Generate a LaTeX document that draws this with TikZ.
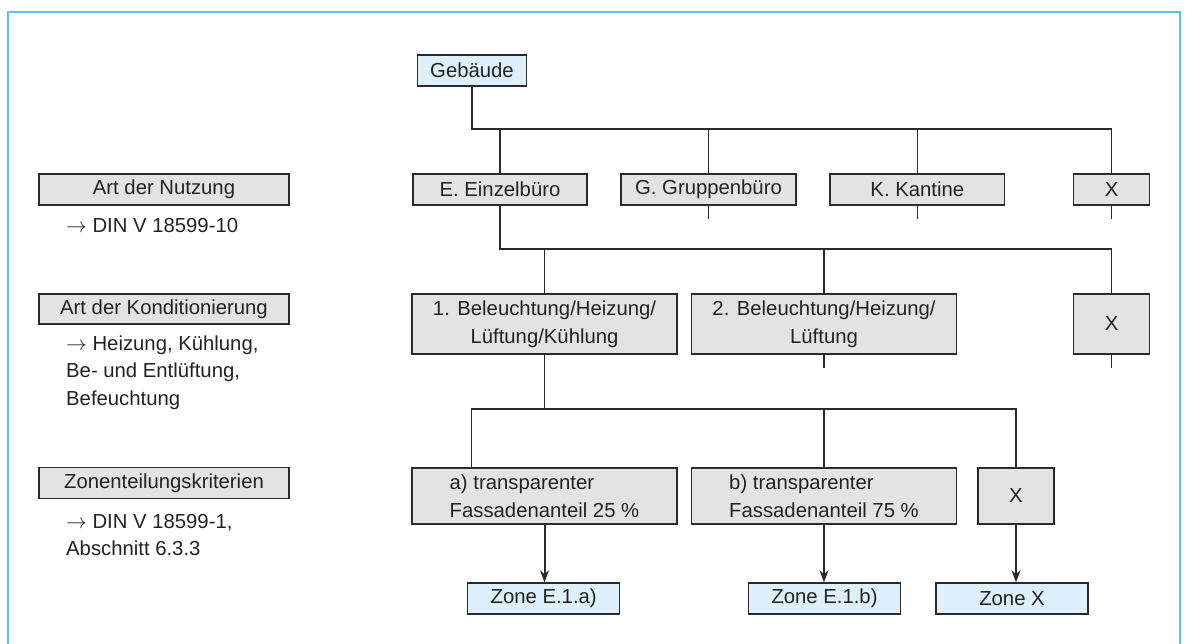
\documentclass[tikz,border=0pt]{standalone}
\usepackage{fontspec}
\setmainfont{Liberation Sans}
\usetikzlibrary{arrows.meta,calc}
\definecolor{boxgray}{HTML}{E3E3E3}
\definecolor{zoneblue}{HTML}{DDF0FC}
\definecolor{frameblue}{HTML}{5FC0EA}
\definecolor{linegray}{HTML}{2A2A2A}
\definecolor{textgray}{HTML}{222222}

\begin{document}
\begin{tikzpicture}[x=1pt,y=-1pt,
  font=\fontsize{20.3}{27.5}\selectfont,
  base/.style={draw=linegray, line width=1.5pt, inner sep=0pt, align=center, text=textgray},
  graybox/.style={base, fill=boxgray},
  zonebox/.style={base, fill=zoneblue, minimum width=152pt, minimum height=31pt},
  link/.style={draw=linegray, line width=1.5pt},
  arrowlink/.style={link, line width=2pt, -{Stealth[length=12pt,width=9pt]}},
  note/.style={inner sep=0pt, anchor=west, align=left, text=textgray}]

\useasboundingbox (0,0) rectangle (1188,643);
% outer frame (open at the bottom edge of the page)
\draw[frameblue, line width=1.6pt] (8,650) -- (8,12) -- (1180,12) -- (1180,650);

% left column: criteria
\node[graybox, minimum width=250pt, minimum height=31pt] (nutz) at (164,189.5) {Art der Nutzung};
\node[note] (nutzref) at (66,226) {$\rightarrow$ DIN V 18599-10};
\node[graybox, minimum width=250pt, minimum height=30pt] (kond) at (164,309) {Art der Konditionierung};
\node[note] (kondref) at (66,372.5) {$\rightarrow$ Heizung, Kühlung,\\Be- und Entlüftung,\\Befeuchtung};
\node[graybox, minimum width=250pt, minimum height=30.6pt] (zkrit) at (164,483) {Zonenteilungskriterien};
\node[note] (zkritref) at (66,535) {$\rightarrow$ DIN V 18599-1,\\Abschnitt 6.3.3};

% tree
\node[base, fill=zoneblue, minimum width=109pt, minimum height=31pt] (geb) at (472,70.5) {Gebäude};

\node[graybox, minimum width=174pt, minimum height=31pt] (E) at (500,189.5) {E. Einzelbüro};
\node[graybox, minimum width=175pt, minimum height=31pt] (G) at (708.5,189.5) {G. Gruppenbüro};
\node[graybox, minimum width=174.6pt, minimum height=31pt] (K) at (917.3,189.5) {K. Kantine};
\node[graybox, minimum width=76pt, minimum height=31pt] (X1) at (1111.6,189.5) {X};

\node[graybox, minimum width=265pt, minimum height=60pt] (c1) at (544.5,324) {1. Beleuchtung/Heizung/\\Lüftung/Kühlung};
\node[graybox, minimum width=265pt, minimum height=60pt] (c2) at (824,324) {2. Beleuchtung/Heizung/\\Lüftung};
\node[graybox, minimum width=76pt, minimum height=60pt] (X2) at (1111.6,324) {X};

\node[graybox, minimum width=265pt, minimum height=56pt, align=left] (za) at (544.5,496) {a) transparenter\\Fassadenanteil 25 \%};
\node[graybox, minimum width=265pt, minimum height=56pt, align=left] (zb) at (824,496) {b) transparenter\\Fassadenanteil 75 \%};
\node[graybox, minimum width=76pt, minimum height=56pt] (X3) at (1016,496) {X};

\node[zonebox] (zoneA) at (543.7,598.5) {Zone E.1.a)};
\node[zonebox] (zoneB) at (824.5,598.5) {Zone E.1.b)};
\node[zonebox] (zoneX) at (1012,598.5) {Zone X};

% bus levels
\coordinate (bus1) at (0,129);
\coordinate (bus2) at (0,249);
\coordinate (bus3) at (0,409);
\coordinate (aIn) at (471.5,467.7);

% level 1
\draw[link] (geb.south) -- (geb.south |- bus1) -- (X1.north |- bus1) -- (X1.north);
\draw[link] (E.north) -- (E.north |- bus1);
\draw[link] (G.north) -- (G.north |- bus1);
\draw[link] (K.north) -- (K.north |- bus1);
\draw[link] (G.south) -- ++(0,13);
\draw[link] (K.south) -- ++(0,13);
\draw[link] (X1.south) -- ++(0,13);

% level 2
\draw[link] (E.south) -- (E.south |- bus2) -- (X2.north |- bus2) -- (X2.north);
\draw[link] (c1.north) -- (c1.north |- bus2);
\draw[link] (c2.north) -- (c2.north |- bus2);
\draw[link] (c2.south) -- ++(0,13);
\draw[link] (X2.south) -- ++(0,13);

% level 3
\draw[link] (c1.south) -- (c1.south |- bus3);
\draw[link] (aIn) -- (aIn |- bus3) -- (X3.north |- bus3) -- (X3.north);
\draw[link] (zb.north) -- (zb.north |- bus3);

% zones
\draw[arrowlink] (za.south) -- (za.south |- zoneA.north);
\draw[arrowlink] (zb.south) -- (zb.south |- zoneB.north);
\draw[arrowlink] (X3.south) -- (X3.south |- zoneX.north);
\end{tikzpicture}
\end{document}
